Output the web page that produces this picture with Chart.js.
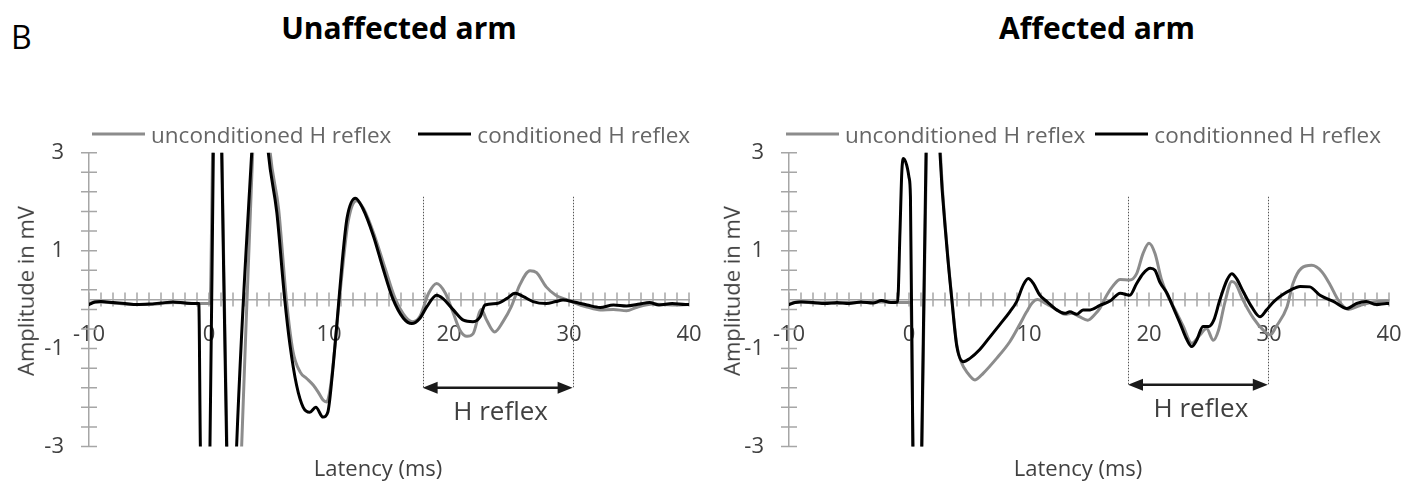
<!DOCTYPE html>
<html>
<head>
<meta charset="utf-8">
<title>H reflex conditioning</title>
<script src="https://cdn.jsdelivr.net/npm/chart.js@4.4.1/dist/chart.umd.min.js"></script>
<style>
  html, body { margin: 0; padding: 0; background: #fff; }
  body { position: relative; width: 1408px; height: 481px; overflow: hidden; font-family: "Open Sans", sans-serif; }
  .panel { position: absolute; top: 0; width: 704px; height: 481px; }
  .panel canvas { position: absolute; left: 0; top: 0; }
  .txt { position: absolute; white-space: nowrap; line-height: 1.2; transform: translate(-50%, -50%); }
  .fig-letter { font-size: 32px; color: #000; transform: translate(0, -50%); }
  .panel-title { font-size: 30px; font-weight: 700; color: #000; }
  .axis-title { font-size: 22px; color: #404040; }
  .axis-title.vertical { transform: translate(-50%, -50%) rotate(-90deg); }
  .legend { position: absolute; display: flex; align-items: center; transform: translateY(-50%); font-size: 22.5px; color: #666; white-space: nowrap; line-height: 1.2; }
  .legend-item { display: flex; align-items: center; }
  .legend-line { display: inline-block; width: 53px; height: 3px; margin-right: 6px; }
</style>
</head>
<body>
<div class="txt fig-letter" style="left:11px; top:37px;">B</div>
<div class="txt panel-title" style="left:399px; top:28px;">Unaffected arm</div>
<div class="txt panel-title" style="left:1097px; top:28px;">Affected arm</div>

<div class="panel" style="left:0;"><canvas id="unaffected" width="704" height="481"></canvas></div>
<div class="panel" style="left:704px;"><canvas id="affected" width="704" height="481"></canvas></div>

<div id="legend-unaffected" class="legend" style="left:92px; top:134px;"></div>
<div id="legend-affected" class="legend" style="left:786px; top:134px;"></div>

<div class="txt axis-title vertical" style="left:25px; top:291px;">Amplitude in mV</div>
<div class="txt axis-title vertical" style="left:731px; top:291px;">Amplitude in mV</div>
<div class="txt axis-title" style="left:378px; top:467px;">Latency (ms)</div>
<div class="txt axis-title" style="left:1078px; top:467px;">Latency (ms)</div>

<script>
// Averaged EMG traces, [latency in ms, amplitude in mV].
// Values beyond ±3 mV are the off-scale stimulus artefact / M-wave peaks.
const unaffectedUnconditioned = [
  [-10, -0.08], [-9.5, -0.05], [-9, -0.05], [-8, -0.07], [-7, -0.09], [-6, -0.1], [-5, -0.1],
  [-4, -0.08], [-3, -0.06], [-2, -0.07], [-1, -0.08], [0.08, -0.08],
  [0.3, 3.0], [0.65, 8.5], [1.08, 3.0], [1.5, -3.0], [2.1, -6.5], [2.72, -3.0], [3.64, 3.0],
  [4.4, 5.5], [5.1, 3.0], [5.8, 1.85], [6.45, 0.0], [7.0, -1.06], [7.6, -1.48], [8.14, -1.61],
  [8.7, -1.75], [9.1, -1.89], [9.5, -2.05], [9.8, -2.09], [10.1, -1.82], [10.5, -0.93],
  [10.8, -0.15], [11.2, 0.8], [11.6, 1.6], [12.3, 2.02], [12.9, 1.85], [13.8, 1.3], [14.7, 0.62],
  [15.5, 0.03], [16.4, -0.36], [17.0, -0.45], [17.58, -0.34], [18.3, 0.13], [18.97, 0.33],
  [19.7, 0.13], [20.36, -0.28], [20.9, -0.62], [21.5, -0.75], [22.0, -0.7], [22.7, -0.2],
  [23.1, -0.4], [23.8, -0.66], [24.5, -0.45], [25.2, -0.14], [25.9, 0.3], [26.75, 0.59],
  [27.3, 0.55], [28.1, 0.26], [28.9, 0.09], [29.8, 0.0], [30.6, -0.08], [31.5, -0.15],
  [32.6, -0.21], [33.7, -0.2], [34.8, -0.23], [35.6, -0.16], [37.0, -0.09], [38.6, -0.11], [40, -0.1]
];
const unaffectedConditioned = [
  [-10, -0.1], [-9.5, -0.05], [-9, -0.04], [-8, -0.06], [-7, -0.08], [-6, -0.1], [-5, -0.09],
  [-4, -0.07], [-3, -0.05], [-2, -0.07], [-1.2, -0.08], [-0.85, -0.08],
  [-0.72, -3.0], [-0.35, -6.8], [0.08, -3.0], [0.36, 3.0], [0.65, 8.5], [1.06, 3.0], [1.47, -3.0],
  [1.85, -6.5], [2.3, -3.0], [3.56, 3.0], [4.2, 5.5], [4.94, 3.0], [5.65, 1.78], [6.3, 0.03],
  [6.75, -0.93], [7.3, -1.75], [7.85, -2.2], [8.4, -2.3], [8.9, -2.2], [9.5, -2.4], [9.9, -2.3],
  [10.25, -1.6], [10.6, -0.66], [11.1, 0.77], [11.5, 1.66], [12.2, 2.07], [12.8, 1.87],
  [13.7, 1.3], [14.5, 0.64], [15.3, 0.03], [16.2, -0.38], [16.9, -0.49], [17.58, -0.38],
  [18.14, -0.15], [18.97, 0.09], [19.5, 0.02], [20.36, -0.21], [21.2, -0.42], [22.0, -0.45],
  [22.6, -0.35], [23.0, -0.11], [23.97, -0.08], [24.8, 0.02], [25.5, 0.13], [26.2, 0.06],
  [27.0, -0.04], [28.1, -0.08], [28.9, -0.04], [29.5, -0.01], [30.4, -0.05], [31.5, -0.11],
  [32.6, -0.16], [33.7, -0.11], [34.8, -0.13], [35.9, -0.09], [36.7, -0.06], [37.5, -0.11],
  [38.6, -0.08], [39.7, -0.1], [40, -0.1]
];
const affectedUnconditioned = [
  [-10, -0.08], [-9, -0.04], [-8, -0.07], [-7, -0.06], [-6, -0.08], [-5, -0.06], [-4, -0.06],
  [-3, -0.05], [-2, -0.05], [-1, -0.06], [0.15, -0.06],
  [0.34, -3.0], [0.62, -7.0], [1.08, -3.0], [1.45, 3.0], [2.05, 7.0], [2.62, 3.0], [3.16, 1.1],
  [3.58, 0.0], [4.0, -0.95], [4.4, -1.3], [4.8, -1.47], [5.5, -1.64], [6.2, -1.5], [7.3, -1.2],
  [8.4, -0.86], [9.2, -0.52], [9.8, -0.25], [10.3, -0.06], [10.7, 0.0], [11.2, -0.05],
  [11.7, -0.12], [12.4, -0.22], [13.0, -0.3], [13.6, -0.28], [14.2, -0.35], [14.9, -0.42],
  [15.5, -0.3], [15.9, -0.18], [16.5, 0.1], [17.0, 0.28], [17.6, 0.41], [18.4, 0.4],
  [18.97, 0.53], [19.5, 0.94], [20.0, 1.15], [20.5, 0.94], [21.05, 0.4], [21.6, 0.06],
  [22.2, -0.22], [22.86, -0.55], [23.56, -0.89], [24.25, -0.72], [24.8, -0.59], [25.36, -0.83],
  [25.8, -0.62], [26.3, -0.08], [26.9, 0.37], [27.2, 0.33], [27.86, -0.02], [28.7, -0.38],
  [29.5, -0.62], [30.1, -0.72], [30.6, -0.55], [31.5, -0.15], [32.0, 0.33], [32.7, 0.64],
  [33.56, 0.7], [34.4, 0.57], [35.1, 0.3], [35.8, -0.02], [36.6, -0.2], [37.6, -0.12],
  [38.7, -0.05], [39.8, -0.03], [40, -0.03]
];
const affectedConditioned = [
  [-10, -0.1], [-9.5, -0.06], [-9, -0.05], [-8, -0.06], [-7, -0.08], [-6, -0.06], [-5, -0.08],
  [-4, -0.05], [-3, -0.07], [-2.3, -0.02], [-1.5, -0.06], [-0.95, -0.05],
  [-0.75, 1.4], [-0.6, 2.6], [-0.47, 2.88], [-0.2, 2.75], [0.0, 2.5], [0.12, 2.1], [0.32, -3.0],
  [0.6, -7.0], [1.06, -3.0], [1.42, 3.0], [2.0, 7.0], [2.58, 3.0], [3.14, 1.11], [3.56, 0.02],
  [3.97, -0.93], [4.53, -1.27], [5.08, -1.2], [5.9, -1.02], [6.75, -0.76], [7.6, -0.5],
  [8.4, -0.25], [8.97, -0.04], [9.53, 0.3], [9.94, 0.43], [10.36, 0.33], [10.9, 0.09],
  [11.5, -0.04], [12.3, -0.21], [13.0, -0.28], [13.4, -0.25], [14.0, -0.3], [14.5, -0.21],
  [15.1, -0.21], [15.9, -0.12], [16.75, -0.03], [17.6, 0.13], [18.4, 0.09], [18.97, 0.33],
  [19.5, 0.53], [20.1, 0.64], [20.5, 0.6], [20.9, 0.36], [21.5, 0.13], [22.0, -0.15],
  [22.6, -0.49], [23.1, -0.79], [23.56, -0.96], [23.97, -0.83], [24.5, -0.55], [24.97, -0.55],
  [25.4, -0.42], [25.9, -0.01], [26.5, 0.4], [26.9, 0.53], [27.3, 0.43], [27.86, 0.16],
  [28.56, -0.15], [29.25, -0.35], [29.8, -0.21], [30.4, -0.04], [31.06, 0.09], [31.75, 0.19],
  [32.6, 0.27], [33.4, 0.26], [34.25, 0.09], [35.4, -0.04], [36.5, -0.18], [37.3, -0.08],
  [38.1, -0.04], [38.95, -0.1], [39.8, -0.08], [40, -0.08]
];

// Axes
const latencyRange = [-10, 40];
const amplitudeRange = [-3, 3];
const latencyLabels = [-10, 0, 10, 20, 30, 40];
const amplitudeLabels = [3, 1, -1, -3];
const amplitudeTicks = [-3, -2.6, -2.2, -1.8, -1.4, -1, -0.6, -0.2, 0.2, 0.6, 1, 1.4, 1.8, 2.2, 2.6, 3];
const latencyMinorStep = 1;

// H reflex analysis window [start, end] in ms, with the level of the span arrow (mV)
const hReflexUnaffected = [17.8, 30.3];
const hReflexAffected = [18.25, 29.9];
const windowTopLevel = 2.1;
const arrowLevelUnaffected = -1.8;
const arrowLevelAffected = -1.74;

const seriesNamesUnaffected = ['unconditioned H reflex', 'conditioned H reflex'];
const seriesNamesAffected = ['unconditioned H reflex', 'conditionned H reflex'];

const GRAY = '#8c8c8c';
const BLACK = '#000000';
const AXIS = '#a6a6a6';
const LABEL = '#404040';
const FONT = "'Open Sans', sans-serif";

const latencyTicks = [];
for (let v = latencyRange[0]; v <= latencyRange[1]; v += latencyMinorStep) latencyTicks.push(v);

const toPoints = rows => rows.map(([x, y]) => ({ x, y }));

// Cross-style tick marks on both axes
const axisMarks = {
  id: 'axisMarks',
  beforeDatasetsDraw(chart, args, o) {
    const { ctx, chartArea, scales: { x, y } } = chart;
    const yZero = y.getPixelForValue(0);
    const xLeft = chartArea.left;
    ctx.save();
    ctx.strokeStyle = o.color;
    ctx.lineWidth = o.width;
    ctx.beginPath();
    x.ticks.forEach(t => {
      const px = x.getPixelForValue(t.value);
      ctx.moveTo(px, yZero - o.xLength);
      ctx.lineTo(px, yZero + o.xLength);
    });
    y.ticks.forEach(t => {
      const py = y.getPixelForValue(t.value);
      ctx.moveTo(xLeft - o.yLength, py);
      ctx.lineTo(xLeft + o.yLength, py);
    });
    ctx.stroke();
    ctx.restore();
  }
};

// Dotted window bounds, double-headed arrow and caption for the H reflex
const hReflexMarker = {
  id: 'hReflexMarker',
  beforeDatasetsDraw(chart, args, o) {
    const { ctx, scales: { x, y } } = chart;
    const x1 = x.getPixelForValue(o.window[0]);
    const x2 = x.getPixelForValue(o.window[1]);
    const yTop = y.getPixelForValue(o.top);
    const yArrow = y.getPixelForValue(o.level);
    ctx.save();
    ctx.strokeStyle = '#555';
    ctx.lineWidth = 1;
    ctx.setLineDash([1.5, 1.5]);
    [x1, x2].forEach(px => {
      const sx = Math.round(px) + 0.5;
      ctx.beginPath();
      ctx.moveTo(sx, yTop);
      ctx.lineTo(sx, yArrow);
      ctx.stroke();
    });
    ctx.setLineDash([]);
    const head = 15, half = 6;
    ctx.strokeStyle = '#1a1a1a';
    ctx.fillStyle = '#1a1a1a';
    ctx.lineWidth = 2.5;
    ctx.beginPath();
    ctx.moveTo(x1 + head - 2, yArrow);
    ctx.lineTo(x2 - head + 2, yArrow);
    ctx.stroke();
    [[x1, 1], [x2, -1]].forEach(([tip, dir]) => {
      ctx.beginPath();
      ctx.moveTo(tip, yArrow);
      ctx.lineTo(tip + dir * head, yArrow - half);
      ctx.lineTo(tip + dir * head, yArrow + half);
      ctx.closePath();
      ctx.fill();
    });
    ctx.font = `26px ${FONT}`;
    ctx.fillStyle = LABEL;
    ctx.textAlign = 'center';
    ctx.textBaseline = 'middle';
    ctx.fillText(o.label, (x1 + x2) / 2 + 3, yArrow + 25);
    ctx.restore();
  }
};

// Legend rendered as HTML above the plot
const htmlLegend = {
  id: 'htmlLegend',
  afterUpdate(chart, args, o) {
    const box = document.getElementById(o.containerID);
    box.innerHTML = '';
    chart.data.datasets.forEach((ds, i) => {
      const item = document.createElement('span');
      item.className = 'legend-item';
      if (i > 0) item.style.marginLeft = o.itemGap + 'px';
      const line = document.createElement('span');
      line.className = 'legend-line';
      line.style.background = ds.borderColor;
      const text = document.createElement('span');
      text.textContent = ds.label;
      item.appendChild(line);
      item.appendChild(text);
      box.appendChild(item);
    });
  }
};

function buildPanel(cfg) {
  return new Chart(document.getElementById(cfg.canvas), {
    type: 'line',
    data: {
      datasets: [
        { label: cfg.names[0], data: toPoints(cfg.unconditioned), borderColor: GRAY, order: 2 },
        { label: cfg.names[1], data: toPoints(cfg.conditioned), borderColor: BLACK, order: 1 }
      ]
    },
    options: {
      responsive: false,
      animation: false,
      devicePixelRatio: 1,
      events: [],
      layout: { padding: { top: 152.7, bottom: 34.5, left: 0, right: cfg.padRight } },
      elements: {
        line: { borderWidth: 3, cubicInterpolationMode: 'monotone', borderCapStyle: 'round', borderJoinStyle: 'round', fill: false },
        point: { radius: 0, hoverRadius: 0 }
      },
      scales: {
        x: {
          type: 'linear',
          min: latencyRange[0],
          max: latencyRange[1],
          position: { y: 0 },
          afterFit: s => { s.height = 0; },
          afterBuildTicks: s => { s.ticks = latencyTicks.map(v => ({ value: v })); },
          // invisible tick length only offsets the labels below the axis line
          grid: { display: true, drawOnChartArea: false, drawTicks: true, tickLength: 22, color: 'rgba(0,0,0,0)' },
          border: { display: true, color: AXIS, width: 1.5 },
          ticks: {
            autoSkip: false, maxRotation: 0, minRotation: 0, padding: 0,
            color: LABEL, font: { family: FONT, size: 22 },
            callback: v => latencyLabels.includes(v) ? String(v) : ''
          }
        },
        y: {
          type: 'linear',
          min: amplitudeRange[0],
          max: amplitudeRange[1],
          position: 'left',
          afterFit: s => { s.width = cfg.axisWidth; },
          afterBuildTicks: s => { s.ticks = amplitudeTicks.map(v => ({ value: v })); },
          grid: { display: true, drawOnChartArea: false, drawTicks: true, tickLength: 25, color: 'rgba(0,0,0,0)' },
          border: { display: true, color: AXIS, width: 1.5 },
          ticks: {
            autoSkip: false, padding: 0, color: LABEL, font: { family: FONT, size: 22 },
            callback: v => amplitudeLabels.some(a => Math.abs(a - v) < 1e-9) ? String(v) : ''
          }
        }
      },
      plugins: {
        legend: { display: false },
        tooltip: { enabled: false },
        axisMarks: { color: AXIS, width: 1.5, xLength: 7, yLength: 8 },
        hReflexMarker: { window: cfg.window, top: windowTopLevel, level: cfg.arrowLevel, label: 'H reflex' },
        htmlLegend: { containerID: cfg.legend, itemGap: cfg.legendGap }
      }
    },
    plugins: [axisMarks, hReflexMarker, htmlLegend]
  });
}

buildPanel({
  canvas: 'unaffected', legend: 'legend-unaffected', names: seriesNamesUnaffected,
  unconditioned: unaffectedUnconditioned, conditioned: unaffectedConditioned,
  window: hReflexUnaffected, arrowLevel: arrowLevelUnaffected,
  axisWidth: 89, padRight: 15, legendGap: 27
});
buildPanel({
  canvas: 'affected', legend: 'legend-affected', names: seriesNamesAffected,
  unconditioned: affectedUnconditioned, conditioned: affectedConditioned,
  window: hReflexAffected, arrowLevel: arrowLevelAffected,
  axisWidth: 85, padRight: 19, legendGap: 10
});
</script>
</body>
</html>
